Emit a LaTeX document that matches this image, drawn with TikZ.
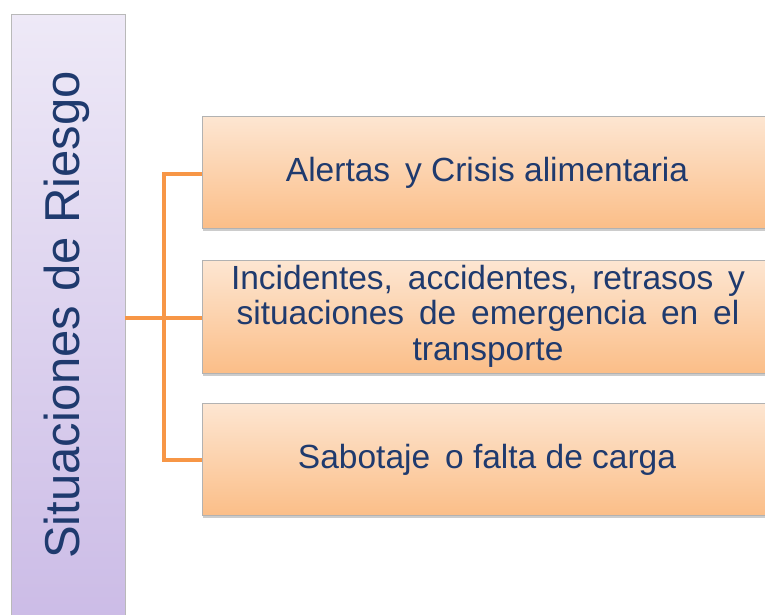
\documentclass[tikz,border=0pt]{standalone}
\usepackage{fontspec}
\setmainfont{Liberation Sans}
\usetikzlibrary{shadows}
\definecolor{txt}{HTML}{1F3A6E}
\definecolor{conn}{HTML}{F79646}
\definecolor{otop}{HTML}{FDE6D2}
\definecolor{obot}{HTML}{FBBE88}
\definecolor{ptop}{HTML}{EEE9F7}
\definecolor{pbot}{HTML}{CBBBE6}
\tikzset{
  itembox/.style={draw=gray!60, line width=0.8pt, top color=otop, bottom color=obot,
    drop shadow={opacity=0.4, shadow xshift=1pt, shadow yshift=-3pt}},
  itemtext/.style={text=txt, font=\fontsize{33.5}{35.5}\selectfont, align=center},
  connline/.style={draw=conn, line width=3.5pt}
}
\begin{document}
\begin{tikzpicture}[x=1pt,y=1pt]
\useasboundingbox (0,0) rectangle (765,-614);
% left box
\path[draw=gray!55, line width=0.8pt, top color=ptop, bottom color=pbot] (11,-14) rectangle (125,-630);
\node[rotate=90, text=txt, font=\fontsize{49}{52}\selectfont] (title) at (67,-315) {Situaciones de Riesgo};
\coordinate (L) at (125,-318);
% boxes
\path[itembox] (202,-116) rectangle (775,-228);
\path[itembox] (202,-260) rectangle (775,-373);
\path[itembox] (202,-403) rectangle (775,-515);
\coordinate (b1) at (202,-174);
\coordinate (b2) at (202,-318);
\coordinate (b3) at (202,-460);
\node[itemtext] (t1) at (487,-173) {Alertas\, y Crisis alimentaria};
\node[itemtext] (t2) at (488,-316) {Incidentes,\, accidentes,\, retrasos\, y\\situaciones\, de\, emergencia\, en\, el\\transporte};
\node[itemtext] (t3) at (487,-460) {Sabotaje\, o falta de carga};
% connectors
\coordinate (J) at (164,-318);
\draw[connline] (L) -- (J);
\draw[connline, line join=miter] (b1) -| (J) |- (b3);
\draw[connline] (J) -- (b2);
\end{tikzpicture}
\end{document}
